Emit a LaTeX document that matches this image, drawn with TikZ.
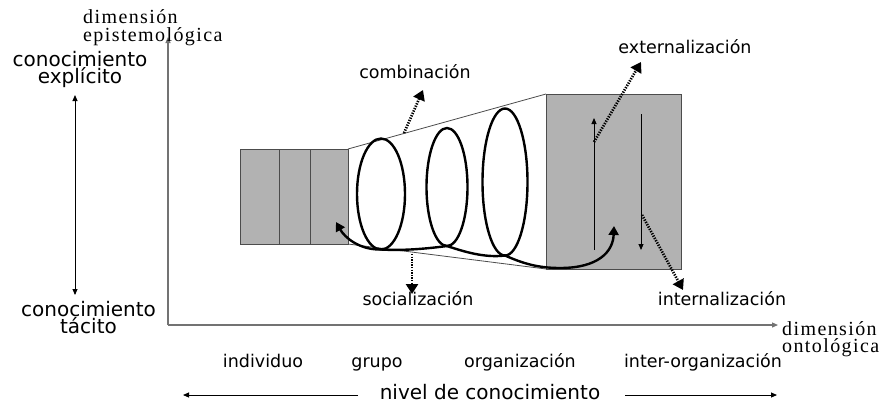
\documentclass[tikz,border=0pt]{standalone}
\usepackage{fontspec}
\usetikzlibrary{arrows.meta,shapes.geometric}
\newfontfamily\lblfont{DejaVu Sans}
\newfontfamily\axfont[LetterSpace=7]{Liberation Serif}
\begin{document}
\begin{tikzpicture}[x=1pt,y=-1pt,
  sanslbl/.style={font=\lblfont\fontsize{17.5}{20}\selectfont, inner sep=0pt, anchor=base},
  biglbl/.style={font=\lblfont\fontsize{20}{22}\selectfont, inner sep=0pt, anchor=base},
  twolbl/.style={font=\lblfont\fontsize{20}{17.5}\selectfont, inner sep=0pt, align=center},
  axlbl/.style={font=\axfont\fontsize{20}{17.5}\selectfont, inner sep=0pt, align=left, anchor=west},
  axisline/.style={draw=black!55, line width=1.2pt, -{Triangle[length=6pt,width=5pt]}},
  thinarrow/.style={draw=black, line width=0.9pt, -{Triangle[length=6pt,width=5pt]}},
  dblarrow/.style={draw=black, line width=0.9pt, {Triangle[length=6pt,width=5pt]}-{Triangle[length=6pt,width=5pt]}},
  dotarrow/.style={draw=black, line width=2.7pt, dash pattern=on 1.3pt off 1.3pt, -{Triangle[length=10pt,width=12pt]}},
  boxst/.style={draw=black!70, fill=black!30, line width=0.8pt, inner sep=0pt, outer sep=0pt},
  trap/.style={draw=black!70, line width=0.8pt},
  loopst/.style={draw=black, ellipse, line width=2.4pt, inner sep=0pt, outer sep=0pt},
  spiral/.style={draw=black, line width=2.4pt, {Triangle[length=9pt,width=10pt]}-{Triangle[length=9pt,width=10pt]}}
]
\useasboundingbox (0,0) rectangle (888,405);

% axes
\coordinate (axO) at (168,325);
\coordinate (axY) at (168,37);
\coordinate (axX) at (778,325);
\draw[axisline] (axO) -- (axY);
\draw[axisline] (axO) -- (axX);

% boxes
\node[boxst, minimum width=39pt, minimum height=95pt] (b1) at (259.5,196.5) {};
\node[boxst, minimum width=31pt, minimum height=95pt] (b2) at (294.5,196.5) {};
\node[boxst, minimum width=38pt, minimum height=95pt] (b3) at (329,196.5) {};
\node[boxst, minimum width=135pt, minimum height=175pt] (big) at (613.5,181.5) {};
\draw[trap] (b3.north east) -- (big.north west);
\draw[trap] (b3.south east) -- (big.south west);

% loops
\node[loopst, minimum width=48pt, minimum height=111pt] (e1) at (381,194) {};
\node[loopst, minimum width=41pt, minimum height=118pt] (e2) at (447,187) {};
\node[loopst, minimum width=45pt, minimum height=147pt] (e3) at (505,182) {};

\coordinate (tipL) at (336,222);
\coordinate (tipR) at (614,226);
\draw[spiral] (tipL) .. controls (345,238) and (360,250) .. (e1.south)
  .. controls (405,251) and (432,248) .. (e2.south)
  .. controls (465,252) and (485,258) .. (e3.south)
  .. controls (520,262) and (535,268) .. (560,268)
  .. controls (598,268) and (613,252) .. (tipR);

% thin arrows in big box
\coordinate (upS) at (594,250);
\coordinate (upE) at (594,118);
\coordinate (dnS) at (641,114);
\coordinate (dnE) at (641,250);
\draw[thinarrow] (upS) -- (upE);
\draw[thinarrow] (dnS) -- (dnE);

% dotted arrows
\coordinate (extS) at (594,142);
\coordinate (extE) at (641,62);
\coordinate (intS) at (642,215);
\coordinate (intE) at (683,290);
\coordinate (comS) at (404,133);
\coordinate (comE) at (423,90);
\coordinate (socS) at (412,254);
\coordinate (socE) at (412,294);
\draw[dotarrow] (extS) -- (extE);
\draw[dotarrow] (intS) -- (intE);
\draw[dotarrow] (comS) -- (comE);
\draw[dotarrow] (socS) -- (socE);

% process labels
\node[sanslbl] (lcomb) at (415,78) {combinación};
\node[sanslbl] (lext) at (685,53) {externalización};
\node[sanslbl] (lint) at (722,305) {internalización};
\node[sanslbl] (lsoc) at (418,305) {socialización};

% level labels
\node[sanslbl] (lind) at (263,367) {individuo};
\node[sanslbl] (lgrp) at (377,367) {grupo};
\node[sanslbl] (lorg) at (520,367) {organización};
\node[sanslbl] (linter) at (703,367) {inter-organización};
\node[biglbl] (lniv) at (490,399) {nivel de conocimiento};
\coordinate (nivLs) at (358,395);
\coordinate (nivLe) at (183,395);
\coordinate (nivRs) at (625,395);
\coordinate (nivRe) at (777,395);
\draw[thinarrow] (nivLs) -- (nivLe);
\draw[thinarrow] (nivRs) -- (nivRe);

% left labels
\node[twolbl] (lexp) at (80,69.5) {conocimiento\\explícito};
\node[twolbl] (ltac) at (88.5,317.5) {conocimiento\\tácito};
\coordinate (daT) at (75,95);
\coordinate (daB) at (75,295);
\draw[dblarrow] (daT) -- (daB);

% axis labels
\node[axlbl] (lepi) at (83,27.5) {dimensión\\epistemológica};
\node[axlbl] (lont) at (782,339) {dimensión\\ontológica};
\end{tikzpicture}
\end{document}
